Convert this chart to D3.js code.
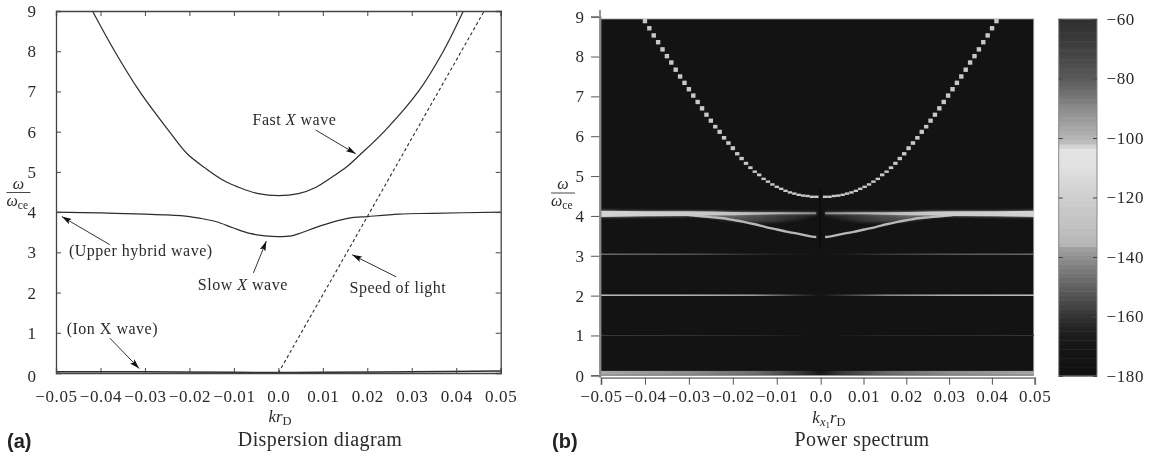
<!DOCTYPE html>
<html>
<head>
<meta charset="utf-8">
<script src="https://cdn.jsdelivr.net/npm/d3@7"></script>
<style>
  html, body { margin: 0; padding: 0; background: #fff; }
  svg { display: block; filter: blur(0.35px); }
  text { font-family: "Liberation Serif", serif; fill: #2a2a2a; }
  .tick text { font-size: 17px; letter-spacing: 0.6px; }
  .note { font-size: 16px; letter-spacing: 0.5px; }
  .title { font-size: 20px; letter-spacing: 0.4px; }
  .panel { font-family: "Liberation Sans", sans-serif; font-weight: bold; font-size: 20px; fill: #222; }
</style>
</head>
<body>
<div id="chart"></div>
<script>
const xTicks = [-0.05, -0.04, -0.03, -0.02, -0.01, 0, 0.01, 0.02, 0.03, 0.04, 0.05];
const yTicks = [0, 1, 2, 3, 4, 5, 6, 7, 8, 9];

// (a) dispersion curves
const fastK = [-0.0418, -0.0368, -0.0312, -0.0245, -0.0205, -0.0165, -0.0125, -0.0085, -0.0045, 0, 0.0045, 0.0085, 0.0122, 0.0153, 0.0183, 0.0241, 0.0315, 0.0371, 0.0416];
const fastW = [9, 8, 7, 6, 5.45, 5.1, 4.8, 4.6, 4.46, 4.41, 4.46, 4.62, 4.88, 5.12, 5.42, 6.04, 7, 8, 9];
const slowK = [-0.05, -0.04, -0.03, -0.025, -0.02, -0.0177, -0.0139, -0.0102, -0.0064, -0.003, 0, 0.003, 0.0048, 0.0085, 0.0122, 0.016, 0.0201, 0.0272, 0.0347, 0.05];
const slowW = [4, 3.98, 3.95, 3.93, 3.89, 3.85, 3.76, 3.61, 3.47, 3.41, 3.39, 3.41, 3.47, 3.62, 3.75, 3.85, 3.89, 3.95, 3.97, 4];
const ionK = [-0.05, -0.03, -0.01, 0, 0.01, 0.03, 0.05];
const ionW = [0.03, 0.03, 0.02, 0.01, 0.02, 0.03, 0.05];
const lightK = [0, 0.0463];
const lightW = [0, 9];

const notes = [
  {text: "Fast ", em: "X", rest: " wave", k: -0.0058, w: 6.17},
  {text: "(Upper hybrid wave)", em: "", rest: "", k: -0.0471, w: 2.91},
  {text: "Slow ", em: "X", rest: " wave", k: -0.0181, w: 2.06},
  {text: "Speed of light", em: "", rest: "", k: 0.016, w: 1.99},
  {text: "(Ion X wave)", em: "", rest: "", k: -0.0476, w: 0.98}
];
const arrows = [
  {k0: 0.0084, w0: 6.04, k1: 0.0174, w1: 5.45},
  {k0: -0.0379, w0: 3.19, k1: -0.0487, w1: 3.89},
  {k0: -0.0056, w0: 2.49, k1: -0.0027, w1: 3.28},
  {k0: 0.0265, w0: 2.39, k1: 0.0166, w1: 2.94},
  {k0: -0.0379, w0: 0.87, k1: -0.0313, w1: 0.11}
];

// (b) spectrum ridges. One value per grid column, |k| = 0.040 down to 0.001
const ridgeK = [0.04, 0.039, 0.038, 0.037, 0.036, 0.035, 0.034, 0.033, 0.032, 0.031, 0.03, 0.029, 0.028, 0.027, 0.026, 0.025, 0.024, 0.023, 0.022, 0.021, 0.02, 0.019, 0.018, 0.017, 0.016, 0.015, 0.014, 0.013, 0.012, 0.011, 0.01, 0.009, 0.008, 0.007, 0.006, 0.005, 0.004, 0.003, 0.002, 0.001];
const ridgeW = [8.89, 8.71, 8.53, 8.36, 8.18, 8.01, 7.85, 7.67, 7.5, 7.34, 7.18, 7.02, 6.86, 6.7, 6.54, 6.39, 6.24, 6.11, 5.96, 5.83, 5.7, 5.56, 5.44, 5.32, 5.21, 5.11, 5.03, 4.93, 4.86, 4.79, 4.73, 4.68, 4.63, 4.59, 4.56, 4.53, 4.51, 4.5, 4.48, 4.48];

const bandK = [0.05, 0.04, 0.03, 0.025, 0.02, 0.015, 0.01, 0.001];
const bandTop = [4.13, 4.12, 4.12, 4.11, 4.1, 4.09, 4.09, 4.09];
const bandBottom = [3.97, 3.99, 4, 4.01, 4.02, 4.03, 4.04, 4.04];
const bandGrayK = [0.05, 0.025, 0.01, 0.001];
const bandGray = ["#d4d4d4", "#c8c8c8", "#b4b4b4", "#8a8a8a"];

const hazeK = [0.03, 0.025, 0.02, 0.015, 0.01, 0.005, 0.001];
const hazeBottom = [4.02, 3.95, 3.88, 3.84, 3.84, 3.9, 4];
const hazeGrayK = [0.03, 0.02, 0.01, 0.001];
const hazeGray = ["#131313", "#5a5a5a", "#3a3a3a", "#1a1a1a"];

const branchK = [0.03, 0.025, 0.022, 0.02, 0.0175, 0.015, 0.0125, 0.01, 0.0075, 0.005, 0.002, 0.001];
const branchW = [4.02, 3.97, 3.94, 3.9, 3.85, 3.79, 3.72, 3.66, 3.6, 3.55, 3.48, 3.47];

const harmonicK = [-0.05, -0.03, -0.015, -0.005, 0, 0.005, 0.015, 0.03, 0.05];
const harmonics = [
  {w: 3.04, width: 1.1, gray: ["#8a8a8a", "#6a6a6a", "#333333", "#1c1c1c", "#141414", "#1c1c1c", "#444444", "#707070", "#8a8a8a"]},
  {w: 2.01, width: 1.5, gray: ["#bdbdbd", "#b5b5b5", "#a0a0a0", "#3a3a3a", "#151515", "#3a3a3a", "#8a8a8a", "#b5b5b5", "#c4c4c4"]},
  {w: 1, width: 1, gray: ["#3a3a3a", "#333333", "#2a2a2a", "#1a1a1a", "#141414", "#1a1a1a", "#2a2a2a", "#2e2e2e", "#383838"]},
  {w: 0.06, width: 4, gray: ["#a8a8a8", "#8c8c8c", "#6e6e6e", "#3a3a3a", "#181818", "#3a3a3a", "#6a6a6a", "#8c8c8c", "#a8a8a8"]}
];

// colour bar, dB level against grey
const barTicks = [-60, -80, -100, -120, -140, -160, -180];
const barLevels = [-60, -70, -80, -85, -90, -95, -100, -102.5, -103, -110, -120, -130, -136.5, -137, -140, -150, -160, -165, -170, -180];
const barGrays = ["#2f2f2f", "#404040", "#5a5a5a", "#707070", "#8c8c8c", "#a0a0a0", "#b6b6b6", "#c2c2c2", "#e4e4e4", "#e0e0e0", "#cfcfcf", "#c0c0c0", "#b5b5b5", "#a0a0a0", "#909090", "#606060", "#333333", "#1f1f1f", "#161616", "#111111"];

const tickLabel = function (d) {
  return d === 0 ? "0.0" : d3.format(".2f")(d).replace("-", "\u2212");
};

const svg = d3.select("#chart").append("svg")
  .attr("width", 1152)
  .attr("height", 456);

const defs = svg.append("defs");

defs.append("marker")
  .attr("id", "head")
  .attr("viewBox", "0 0 10 6")
  .attr("refX", 10)
  .attr("refY", 3)
  .attr("markerWidth", 10)
  .attr("markerHeight", 6)
  .attr("markerUnits", "userSpaceOnUse")
  .attr("orient", "auto")
  .append("path")
  .attr("d", "M0,0L10,3L0,6L2,3Z")
  .attr("fill", "#111");

defs.append("filter")
  .attr("id", "soft")
  .append("feGaussianBlur")
  .attr("stdDeviation", 0.6);

defs.append("filter")
  .attr("id", "softer")
  .attr("y", "-50%")
  .attr("height", "200%")
  .append("feGaussianBlur")
  .attr("stdDeviation", 1.4);

// ---- panel (a)
const xA = d3.scaleLinear().domain([-0.05, 0.05]).range([56, 500.7]);
const yA = d3.scaleLinear().domain([0, 9]).range([373, 11]);

const a = svg.append("g");

const lineA = d3.line()
  .x(function (d) { return xA(d[0]); })
  .y(function (d) { return yA(d[1]); })
  .curve(d3.curveCatmullRom);

function curveA(ks, ws, width, dash) {
  a.append("path")
    .attr("d", lineA(d3.zip(ks, ws)))
    .attr("fill", "none")
    .attr("stroke", "#2c2c2c")
    .attr("stroke-width", width)
    .attr("stroke-dasharray", dash);
}
curveA(fastK, fastW, 1.2, null);
curveA(slowK, slowW, 1.2, null);
curveA(ionK, ionW, 1.5, null);
curveA(lightK, lightW, 1.1, "3.2,2.6");

// frame, ticks point inwards on all four sides
const aBottom = a.append("g").attr("transform", "translate(0,373)")
  .call(d3.axisBottom(xA).tickValues(xTicks).tickSize(-5).tickFormat(tickLabel));
a.append("g").attr("transform", "translate(0,11)")
  .call(d3.axisTop(xA).tickValues(xTicks).tickSize(-5).tickFormat(""));
const aLeft = a.append("g").attr("transform", "translate(56,0)")
  .call(d3.axisLeft(yA).tickValues(yTicks).tickSize(-5).tickFormat(d3.format("d")));
a.append("g").attr("transform", "translate(500.7,0)")
  .call(d3.axisRight(yA).tickValues(yTicks).tickSize(-5).tickFormat(""));

a.selectAll(".domain").attr("stroke", "#444").attr("stroke-width", 1.3);
a.selectAll(".tick line").attr("stroke", "#444").attr("stroke-width", 1);

aBottom.selectAll("text").attr("y", 16.5);
aLeft.selectAll("text").attr("x", -24).attr("text-anchor", "middle");
aLeft.selectAll("text").filter(function (d) { return d === 0; }).attr("y", 3);

a.selectAll("line.arrow")
  .data(arrows)
  .join("line")
  .attr("class", "arrow")
  .attr("x1", function (d) { return xA(d.k0); })
  .attr("y1", function (d) { return yA(d.w0); })
  .attr("x2", function (d) { return xA(d.k1); })
  .attr("y2", function (d) { return yA(d.w1); })
  .attr("stroke", "#333")
  .attr("stroke-width", 1)
  .attr("marker-end", "url(#head)");

notes.forEach(function (n) {
  const t = a.append("text")
    .attr("class", "note")
    .attr("x", xA(n.k))
    .attr("y", yA(n.w));
  t.append("tspan").text(n.text);
  if (n.em) {
    t.append("tspan").attr("font-style", "italic").text(n.em);
    t.append("tspan").text(n.rest);
  }
});

function omegaLabel(x, y) {
  svg.append("text").attr("x", x + 12).attr("y", y - 4)
    .attr("text-anchor", "middle").attr("font-style", "italic").attr("font-size", 16).text("\u03c9");
  svg.append("line").attr("x1", x).attr("x2", x + 24).attr("y1", y).attr("y2", y)
    .attr("stroke", "#333").attr("stroke-width", 0.9);
  const t = svg.append("text").attr("x", x).attr("y", y + 13);
  t.append("tspan").attr("font-style", "italic").attr("font-size", 16).text("\u03c9");
  t.append("tspan").attr("font-size", 11.5).attr("dy", 3).text("ce");
}
omegaLabel(6.5, 192.5);
omegaLabel(551, 193);

let kr = svg.append("text").attr("x", 280).attr("y", 422).attr("text-anchor", "middle").attr("font-size", 17);
kr.append("tspan").attr("font-style", "italic").text("kr");
kr.append("tspan").attr("font-size", 12.5).attr("dy", 3).text("D");

svg.append("text").attr("class", "title").attr("x", 320).attr("y", 446)
  .attr("text-anchor", "middle").text("Dispersion diagram");
svg.append("text").attr("class", "panel").attr("x", 7).attr("y", 448).text("(a)");

// ---- panel (b)
const yB = d3.scaleLinear().domain([0, 9]).range([375.3, 16.7]);
// the printed ticks are a little closer on the right of zero than the grid itself
const xB = d3.scaleLinear().domain([-0.05, 0, 0.05]).range([601, 820.7, 1034.7]);
const xGrid = d3.scaleLinear().domain([-0.05, 0.05]).range([601, 1040.4]);

defs.append("clipPath")
  .attr("id", "heat")
  .append("rect")
  .attr("x", 600.6).attr("y", 19)
  .attr("width", 433.1).attr("height", 356.5);

const b = svg.append("g");

b.append("rect")
  .attr("x", 600.6).attr("y", 19)
  .attr("width", 433.1).attr("height", 356.5)
  .attr("fill", "#131313")
  .attr("stroke", "#999")
  .attr("stroke-width", 0.8);

const heat = b.append("g").attr("clip-path", "url(#heat)").append("g").attr("filter", "url(#soft)");

function grayStops(id, x0, x1, ks, grays, side) {
  const g = defs.append("linearGradient")
    .attr("id", id)
    .attr("gradientUnits", "userSpaceOnUse")
    .attr("x1", x0).attr("x2", x1).attr("y1", 0).attr("y2", 0);
  ks.forEach(function (k, i) {
    g.append("stop")
      .attr("offset", (xGrid(k * side) - x0) / (x1 - x0))
      .attr("stop-color", grays[i]);
  });
}

// the harmonics run across the whole width
harmonics.forEach(function (h, i) {
  grayStops("harm" + i, xGrid(-0.05), xGrid(0.05), harmonicK, h.gray, 1);
  heat.append("rect")
    .attr("x", xGrid(-0.05))
    .attr("y", yB(h.w) - h.width / 2)
    .attr("width", xGrid(0.05) - xGrid(-0.05))
    .attr("height", h.width)
    .attr("fill", "url(#harm" + i + ")");
});

// both sides of zero carry the same ridge values
[-1, 1].forEach(function (side) {
  const tag = side < 0 ? "L" : "R";
  const xa = xGrid(0.05 * side);
  const xb = xGrid(0);

  grayStops("haze" + tag, xa, xb, [0.05].concat(hazeGrayK, [0]), ["#131313"].concat(hazeGray, ["#1a1a1a"]), side);
  grayStops("band" + tag, xa, xb, bandGrayK.concat([0]), bandGray.concat(["#8a8a8a"]), side);

  const hazeArea = d3.area()
    .x(function (d) { return xGrid(d[0] * side); })
    .y0(yB(4.06))
    .y1(function (d) { return yB(d[1]); });
  heat.append("path")
    .attr("d", hazeArea(d3.zip(hazeK, hazeBottom)))
    .attr("fill", "url(#haze" + tag + ")")
    .attr("filter", "url(#softer)");

  const branch = d3.line()
    .x(function (d) { return xGrid(d[0] * side); })
    .y(function (d) { return yB(d[1]); })
    .curve(d3.curveCatmullRom);
  heat.append("path")
    .attr("d", branch(d3.zip(branchK, branchW)))
    .attr("fill", "none")
    .attr("stroke", "#b8b8b8")
    .attr("stroke-width", 2.4);

  const bandArea = d3.area()
    .x(function (d) { return xGrid(d[0] * side); })
    .y0(function (d) { return yB(d[1]); })
    .y1(function (d) { return yB(d[2]); });
  // glow first, then the band itself
  heat.append("path")
    .attr("d", bandArea(d3.zip(bandK, bandTop, bandBottom)))
    .attr("fill", "url(#band" + tag + ")")
    .attr("opacity", 0.7)
    .attr("filter", "url(#softer)");
  heat.append("path")
    .attr("d", bandArea(d3.zip(bandK, bandTop, bandBottom)))
    .attr("fill", "url(#band" + tag + ")");

  heat.selectAll("rect.ridge" + tag)
    .data(d3.zip(ridgeK, ridgeW, d3.pairs(ridgeW).map(function (p) { return p[0] - p[1]; }).concat([0])))
    .join("rect")
    .attr("class", "ridge" + tag)
    .attr("x", function (d) { return xGrid(d[0] * side) - 2.2; })
    .attr("y", function (d) { return yB(d[1]) - Math.max(1.2, Math.min(2.2, d[2] * 14)); })
    .attr("width", 4.4)
    .attr("height", function (d) { return 2 * Math.max(1.2, Math.min(2.2, d[2] * 14)); })
    .attr("fill", "#c8c8c8");
});

// dark seam down the zero column, only where the ridges cross it
heat.append("rect")
  .attr("x", xGrid(0) - 1)
  .attr("y", yB(4.7))
  .attr("width", 2)
  .attr("height", yB(3.2) - yB(4.7))
  .attr("fill", "#101010");

const bLeft = b.append("g").attr("transform", "translate(600,0)")
  .call(d3.axisLeft(yB).tickValues(yTicks).tickSize(9).tickFormat(d3.format("d")));
const bBottom = b.append("g").attr("transform", "translate(0,377.7)")
  .call(d3.axisBottom(xB).tickValues(xTicks).tickSize(7).tickFormat(tickLabel));

b.selectAll(".domain").attr("stroke", "#8a8a8a").attr("stroke-width", 1.8);
b.selectAll(".tick line").attr("stroke", "#555").attr("stroke-width", 1);

bBottom.selectAll("text").attr("y", 12);
bLeft.selectAll("text").attr("x", -20).attr("text-anchor", "middle");
bLeft.selectAll("text").filter(function (d) { return d === 0; }).attr("y", 1);

b.append("line")
  .attr("x1", 600).attr("x2", 600).attr("y1", 10).attr("y2", 377.7)
  .attr("stroke", "#8a8a8a").attr("stroke-width", 1.8);

let kx = svg.append("text").attr("x", 829).attr("y", 423).attr("text-anchor", "middle").attr("font-size", 17);
kx.append("tspan").attr("font-style", "italic").text("k");
kx.append("tspan").attr("font-style", "italic").attr("font-size", 12.5).attr("dy", 3).text("x");
kx.append("tspan").attr("font-size", 9).attr("dy", 2).text("1");
kx.append("tspan").attr("font-style", "italic").attr("dy", -5).text("r");
kx.append("tspan").attr("font-size", 12.5).attr("dy", 3).text("D");

svg.append("text").attr("class", "title").attr("x", 862).attr("y", 446)
  .attr("text-anchor", "middle").text("Power spectrum");
svg.append("text").attr("class", "panel").attr("x", 552).attr("y", 448).text("(b)");

// ---- colour bar
const yBar = d3.scaleLinear().domain([-180, -60]).range([376, 19]);
const barGray = d3.scaleLinear().domain(barLevels).range(barGrays);
const barStep = 1.5;
const c = svg.append("g");

c.selectAll("rect.level")
  .data(d3.range(-180, -60, barStep))
  .join("rect")
  .attr("class", "level")
  .attr("x", 1058.7)
  .attr("width", 38.3)
  .attr("y", function (d) { return yBar(d + barStep); })
  .attr("height", function (d) { return yBar(d) - yBar(d + barStep) + 0.5; })
  .attr("fill", function (d) { return barGray(d + barStep / 2); });

c.append("rect")
  .attr("x", 1058.7).attr("y", 19)
  .attr("width", 38.3).attr("height", 357)
  .attr("fill", "none")
  .attr("stroke", "#888")
  .attr("stroke-width", 1);

c.append("g").attr("transform", "translate(1097,0)")
  .call(d3.axisRight(yBar).tickValues(barTicks).tickSize(-4)
    .tickFormat(function (d) { return "\u2212" + Math.abs(d); }));
c.append("g").attr("transform", "translate(1058.7,0)")
  .call(d3.axisLeft(yBar).tickValues(barTicks).tickSize(-4).tickFormat(""));

c.selectAll(".domain").remove();
c.selectAll(".tick line").attr("stroke", "#444");
c.selectAll(".tick text").attr("x", 9.5).attr("text-anchor", "start");
</script>
</body>
</html>
